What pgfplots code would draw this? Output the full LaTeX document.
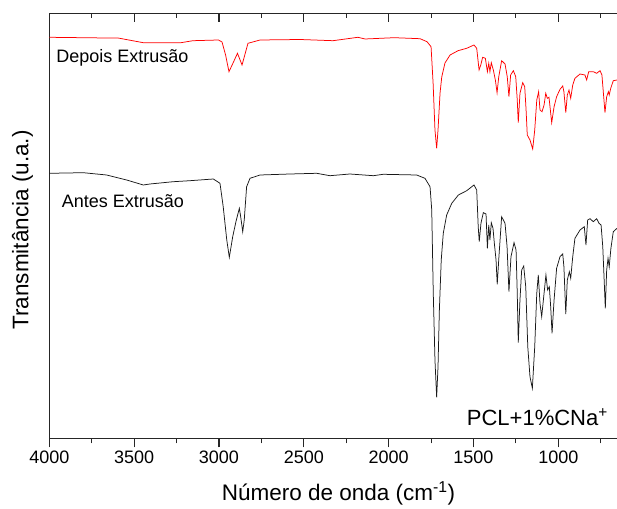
\documentclass[border=0pt]{standalone}
\usepackage{pgfplots}
\pgfplotsset{compat=1.18}
\usepackage{fontspec}
\setmainfont{Liberation Sans}

% FTIR spectra of PCL+1%CNa+ before and after extrusion (offset, arbitrary units)
\pgfplotstableread{
wn    T
4000  401.4
3662  400.7
3595  400.7
3446  396.0
3224  396.0
3153  398.0
3003  398.7
2982  396.7
2961  383.7
2941  367.0
2917  375.7
2891  385.4
2864  373.7
2829  395.4
2758  398.7
2522  399.2
2328  398.0
2181  401.4
2139  399.7
1968  401.0
1815  400.0
1774  397.0
1750  392.0
1738  355.7
1727  308.7
1717  290.4
1709  308.7
1697  345.7
1687  361.7
1668  375.7
1638  383.7
1591  388.0
1540  390.4
1497  393.7
1481  390.4
1467  368.7
1457  373.7
1446  381.4
1430  380.4
1418  367.0
1410  375.4
1403  367.0
1395  376.0
1383  368.7
1371  358.7
1361  346.0
1351  362.0
1334  378.0
1314  374.7
1301  362.0
1291  342.0
1281  363.7
1265  368.0
1251  362.0
1242  338.7
1236  316.0
1226  345.4
1210  356.0
1198  352.0
1190  328.7
1183  303.7
1167  298.7
1151  289.7
1139  308.7
1127  338.7
1116  347.0
1108  328.7
1096  327.0
1084  333.7
1074  345.4
1065  340.4
1055  341.4
1049  332.0
1039  316.0
1025  332.0
1010  342.0
990   349.4
974   352.7
967   347.0
956   326.0
947   343.7
937   348.7
927   340.4
915   353.7
902   360.4
872   364.7
843   363.7
833   358.7
821   367.0
794   367.0
774   365.4
754   368.0
743   363.7
731   338.7
725   326.0
715   342.0
705   347.0
700   343.7
691   350.4
676   358.0
654   358.7
}\depois

\pgfplotstableread{
wn    T
4000  265.4
3800  266.0
3662  263.7
3544  258.7
3446  253.7
3407  254.7
3269  257.0
3171  258.0
3033  259.7
2994  255.4
2975  232.0
2954  198.7
2939  181.4
2919  202.0
2900  217.0
2880  230.4
2872  222.0
2860  207.0
2851  218.7
2837  252.0
2817  260.4
2758  263.7
2581  264.7
2424  265.4
2346  263.0
2228  264.7
2090  263.0
2032  264.4
1835  263.7
1786  260.4
1756  252.0
1746  228.7
1737  145.7
1727  78.7
1717  41.4
1709  72.0
1701  128.7
1690  178.7
1678  205.4
1658  223.7
1628  235.4
1589  243.7
1540  248.0
1497  253.7
1481  248.7
1472  212.0
1466  197.0
1456  215.4
1442  226.0
1426  224.7
1418  190.4
1410  213.7
1403  198.7
1395  216.0
1385  210.4
1377  195.4
1367  178.7
1360  154.4
1350  182.0
1334  222.0
1314  215.4
1302  192.0
1291  147.0
1279  182.0
1261  196.0
1249  188.7
1242  145.4
1236  96.0
1226  138.7
1216  168.7
1204  172.7
1192  152.0
1180  92.0
1167  62.0
1153  50.4
1139  92.0
1127  145.4
1118  163.7
1108  135.4
1098  122.0
1084  145.4
1073  163.7
1063  148.7
1053  152.0
1045  132.0
1037  105.4
1025  138.7
1010  170.4
990   182.0
974   184.7
967   172.0
956   124.7
947   158.7
935   167.0
927   160.4
915   182.0
902   200.4
872   208.7
847   212.0
837   193.7
827   218.7
813   220.0
794   217.0
774   220.0
760   215.4
748   213.7
738   192.0
729   155.4
723   130.4
715   168.7
707   180.4
700   172.0
690   190.4
676   207.0
654   210.4
}\antes

\pgfplotsset{
  ftir/.style={
    width=568.4pt, height=425.4pt, scale only axis,
    x dir=reverse, xmin=650, xmax=4000,
    ymin=0, ymax=425.4,
    xtick={1000,1500,...,4000},
    minor xtick={750,1250,...,3750},
    ytick=\empty,
    major tick length=8.7pt, minor tick length=4.7pt,
    every tick/.style={black!85, line width=1.1pt},
    axis line style={-, black!85, line width=1.1pt},
  },
}

\begin{document}
\begin{tikzpicture}
% bottom and left axis lines, ticks pointing outwards, with the spectra
\begin{axis}[
  ftir, name=ax,
  axis x line*=bottom, axis y line*=left,
  tick align=outside,
  /pgf/number format/assume math mode=true,
  /pgf/number format/set thousands separator={},
  xticklabel style={font=\fontsize{18}{20}\selectfont},
  xlabel={Número de onda (cm\textsuperscript{-1})},
  xlabel style={font=\fontsize{22.5}{26}\selectfont,
    at={(axis description cs:0.5088,-0.1441)}, anchor=base},
  ylabel={Transmitância (u.a.)},
  ylabel style={font=\fontsize{22.5}{26}\selectfont,
    at={(axis description cs:-0.0472,0.4906)}, anchor=center},
  clip=true,
]
\addplot[red, line width=0.75pt] table[x=wn, y=T] {\depois};
\addplot[black!90, line width=0.75pt] table[x=wn, y=T] {\antes};

\node[anchor=base west, inner sep=0pt, font=\fontsize{18}{20}\selectfont]
  at (axis cs:3960,376) {Depois Extrusão};
\node[anchor=base west, inner sep=0pt, font=\fontsize{18}{20}\selectfont]
  at (axis cs:3927,230.7) {Antes Extrusão};
\node[anchor=base west, inner sep=0pt, font=\fontsize{22}{26}\selectfont]
  at (axis cs:1540,13.7) {PCL+1\%CNa\textsuperscript{+}};
\end{axis}

% top axis line with inward ticks
\begin{axis}[
  ftir,
  axis x line*=top, hide y axis,
  tick align=inside,
  xticklabels={},
]
\end{axis}

\pgfresetboundingbox
\useasboundingbox ([xshift=-49.3pt,yshift=-69.3pt]ax.south west)
  rectangle ([xshift=-0.7pt,yshift=13.3pt]ax.north east);
\end{tikzpicture}
\end{document}
